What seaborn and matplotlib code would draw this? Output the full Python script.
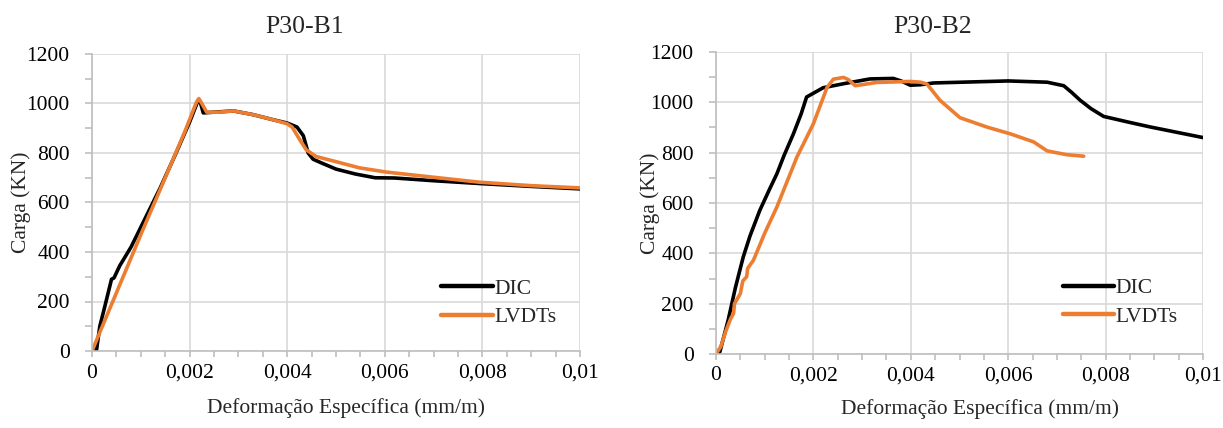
import matplotlib
matplotlib.use("Agg")
import matplotlib.pyplot as plt
import matplotlib.ticker as mticker
import seaborn as sns
import pandas as pd

# ---------------- data ----------------
b1_dic_x = [0, 0.00009, 0.00016, 0.00025, 0.0004, 0.00045, 0.00057, 0.0008, 0.0011, 0.0014,
            0.0017, 0.0019, 0.002, 0.00212, 0.00218, 0.00222, 0.00228, 0.0025, 0.0029, 0.0033,
            0.0037, 0.004, 0.0042, 0.00433, 0.00443, 0.00453, 0.0047, 0.005, 0.0054, 0.0058,
            0.0062, 0.007, 0.008, 0.009, 0.01]
b1_dic_y = [0, 0, 100, 170, 290, 295, 345, 420, 540, 660,
            790, 880, 925, 985, 1015, 1005, 962, 965, 970, 955,
            935, 921, 905, 870, 800, 775, 760, 735, 715, 700,
            699, 688, 676, 665, 655]

b1_lvdt_x = [0, 0.0005, 0.001, 0.0015, 0.0019, 0.00214, 0.00219, 0.00225, 0.00235,
             0.0026, 0.0029, 0.0033, 0.0037, 0.004, 0.0041, 0.00426, 0.00439, 0.00459, 0.005,
             0.00548, 0.00603, 0.007, 0.00794, 0.009, 0.01]
b1_lvdt_y = [0, 235, 470, 700, 885, 1005, 1020, 1000, 965,
             965, 970, 955, 935, 918, 905, 853, 813, 786, 765,
             740, 723, 702, 682, 668, 659]

b2_dic_x = [0, 0.00008, 0.00025, 0.0004, 0.00056, 0.0007, 0.0009, 0.0011, 0.00125, 0.0014,
            0.00159, 0.00175, 0.00186, 0.0022, 0.00262, 0.00316, 0.00364, 0.0038, 0.00399, 0.0042,
            0.00447, 0.006, 0.0068, 0.00714, 0.0073, 0.00748, 0.0077, 0.00796, 0.0085, 0.00892,
            0.01]
b2_dic_y = [0, 9, 135, 265, 386, 470, 571, 655, 716, 790,
            875, 955, 1021, 1058, 1074, 1093, 1095, 1085, 1068, 1070,
            1077, 1085, 1080, 1066, 1040, 1008, 975, 944, 920, 902,
            860]

b2_lvdt_x = [0, 0.0001, 0.0002, 0.0003, 0.00036, 0.00038, 0.0005, 0.00055, 0.00063, 0.00065,
             0.00077, 0.001, 0.00125, 0.00166, 0.002, 0.00228, 0.00241, 0.00262, 0.00272, 0.00286,
             0.0033, 0.00399, 0.0042, 0.00433, 0.0046, 0.00501, 0.00556, 0.00604, 0.00652, 0.0068,
             0.0072, 0.00755]
b2_lvdt_y = [0, 30, 90, 140, 161, 200, 240, 290, 307, 340,
             373, 480, 584, 782, 915, 1059, 1092, 1099, 1090, 1066,
             1079, 1083, 1080, 1073, 1008, 939, 902, 875, 843, 807,
             792, 786]

titles = ["P30-B1", "P30-B2"]
series_names = ["DIC", "LVDTs"]
x_label = "Deformação Específica (mm/m)"
y_label = "Carga (KN)"

# ---------------- style ----------------
sns.set_theme(style="white")
plt.rcParams['font.family'] = ['Liberation Serif', 'DejaVu Serif']

BLACK = "#000000"
ORANGE = "#ED7D31"
GRID = "#d9d9d9"
AXC = "#bfbfbf"
FS = 15.5

fig = plt.figure(figsize=(12.23, 4.28), dpi=100)
W, H = 1223, 428

def px_axes(x0, x1, ytop, ybot):
    return fig.add_axes([x0 / W, 1 - ybot / H, (x1 - x0) / W, (ybot - ytop) / H])

ax1 = px_axes(92, 580, 54, 351)
ax2 = px_axes(716, 1203, 52, 354)

datasets = [
    (ax1, b1_dic_x, b1_dic_y, b1_lvdt_x, b1_lvdt_y),
    (ax2, b2_dic_x, b2_dic_y, b2_lvdt_x, b2_lvdt_y),
]

def fmt(v, pos):
    s = f"{v:.3f}".rstrip("0").rstrip(".")
    if abs(v) < 1e-12:
        s = "0"
    return s.replace(".", ",")

for i, (ax, dx, dy, lx, ly) in enumerate(datasets):
    d1 = pd.DataFrame({"x": dx, "y": dy})
    d2 = pd.DataFrame({"x": lx, "y": ly})
    sns.lineplot(data=d1, x="x", y="y", ax=ax, color=BLACK, linewidth=2.6,
                 sort=False, estimator=None, label=series_names[0])
    sns.lineplot(data=d2, x="x", y="y", ax=ax, color=ORANGE, linewidth=2.6,
                 sort=False, estimator=None, label=series_names[1])
    ax.set_xlim(0, 0.01)
    ax.set_ylim(0, 1200)
    ax.xaxis.set_major_locator(mticker.MultipleLocator(0.002))
    ax.xaxis.set_minor_locator(mticker.MultipleLocator(0.0005))
    ax.yaxis.set_major_locator(mticker.MultipleLocator(200))
    ax.yaxis.set_minor_locator(mticker.MultipleLocator(100))
    ax.xaxis.set_major_formatter(mticker.FuncFormatter(fmt))
    ax.grid(True, which="major", color=GRID, linewidth=1.2)
    ax.set_axisbelow(True)
    for s in ["top", "right"]:
        ax.spines[s].set_visible(False)
    for s in ["left", "bottom"]:
        ax.spines[s].set_color(AXC)
        ax.spines[s].set_linewidth(1.2)
    ax.tick_params(axis="both", which="both", direction="out", color=AXC,
                   width=1.2, labelsize=FS, labelcolor="black")
    ax.tick_params(axis="x", which="both", length=4, pad=5)
    ax.tick_params(axis="y", which="both", length=5, pad=11)
    ax.tick_params(left=True, bottom=True, which="both")
    ax.set_xlabel(x_label, fontsize=FS)
    ax.set_ylabel(y_label, fontsize=FS)
    leg = ax.legend(loc="center left", frameon=False, fontsize=FS,
                    handlelength=2.4, handletextpad=0.05, borderpad=0,
                    borderaxespad=0, labelspacing=0.4,
                    bbox_to_anchor=(0.716 if i == 0 else 0.712, 0.162 if i == 0 else 0.171))
    for line in leg.get_lines():
        line.set_linewidth(3.2)

ax1.xaxis.set_label_coords((346 - 92) / 488, (351 - 398) / 297)
ax2.xaxis.set_label_coords((980 - 716) / 487, (354 - 399) / 302)
ax1.yaxis.set_label_coords((31 - 92) / 488, 0.5)
ax2.yaxis.set_label_coords((660 - 716) / 487, 0.5)

fig.text(305 / W, 1 - 27 / H, titles[0], ha="center", va="center", fontsize=18.5)
fig.text(933 / W, 1 - 27 / H, titles[1], ha="center", va="center", fontsize=18.5)

fig.savefig("out.png", dpi=100, facecolor="white")
